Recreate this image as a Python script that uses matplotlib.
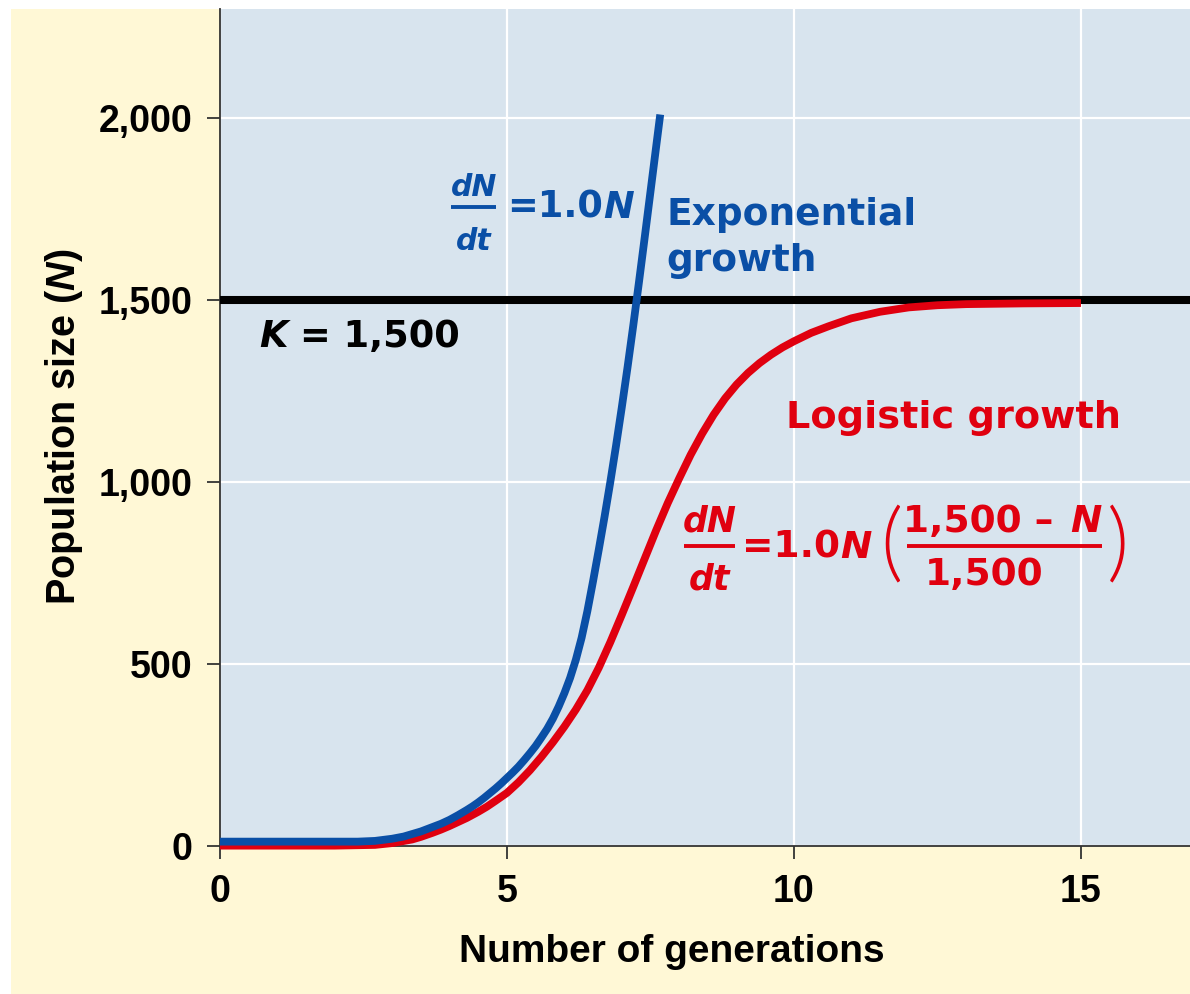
import matplotlib
matplotlib.use("Agg")
import matplotlib.pyplot as plt
from matplotlib.patches import Rectangle

# ---- data ----
exp_t = [0, 1, 2, 2.4, 2.7, 3.0, 3.2, 3.5, 3.7, 3.85, 4.0, 4.15, 4.3, 4.4, 4.5,
         4.6, 4.7, 4.8, 4.9, 5.0, 5.1, 5.2, 5.3, 5.4, 5.5, 5.6, 5.7, 5.8, 5.9,
         6.0, 6.1, 6.2, 6.3, 6.4, 6.5, 6.6, 6.7, 6.8, 6.9, 7.0, 7.1, 7.2, 7.3,
         7.4, 7.5, 7.6, 7.67]
exp_N = [12, 12, 12, 12, 14, 20, 26, 40, 52, 61, 72, 85, 99, 109, 120,
         132, 145, 158, 172, 187, 202, 218, 236, 255, 275, 298, 322, 350, 383,
         420, 462, 512, 572, 645, 728, 815, 905, 1000, 1100, 1205, 1315, 1430, 1550,
         1673, 1798, 1923, 2010]

log_t = [0, 1, 2, 2.7, 3.0, 3.35, 3.5, 3.7, 3.85, 4.0, 4.15, 4.3, 4.5, 4.65, 4.8,
         5.0, 5.2, 5.4, 5.6, 5.8, 6.0, 6.2, 6.4, 6.6, 6.8, 7.0, 7.2, 7.4, 7.6,
         7.8, 8.0, 8.2, 8.4, 8.6, 8.8, 9.0, 9.2, 9.4, 9.6, 9.8, 10.0, 10.3, 10.6,
         11.0, 11.5, 12.0, 12.5, 13, 14, 15]
log_N = [1, 1, 1, 3, 8, 18, 25, 36, 45, 55, 66, 77, 94, 108, 124,
         146, 175, 208, 245, 285, 328, 375, 428, 490, 560, 635, 712, 790, 868,
         942, 1010, 1075, 1133, 1185, 1230, 1268, 1300, 1327, 1350, 1370, 1387, 1410, 1428,
         1450, 1468, 1480, 1486, 1489, 1491, 1492]

K = 1500
x_ticks = [0, 5, 10, 15]
y_ticks = [0, 500, 1000, 1500, 2000]
y_ticklabels = ["0", "500", "1,000", "1,500", "2,000"]

# ---- style ----
W, H = 1190, 994
BLUE = "#0a4fa6"
RED = "#e0000f"
AX_BG = "#d8e4ee"
YELLOW = "#fff8d6"
FONT = "Liberation Sans"
AFONT = ["DejaVu Sans"]

plt.rcParams["font.family"] = [FONT, "DejaVu Sans"]
plt.rcParams["font.weight"] = "bold"
plt.rcParams["mathtext.fontset"] = "custom"
plt.rcParams["mathtext.rm"] = "Liberation Sans:bold"
plt.rcParams["mathtext.bf"] = "Liberation Sans:bold"
plt.rcParams["mathtext.it"] = "Liberation Sans:italic:bold"

fig = plt.figure(figsize=(W / 100, H / 100), dpi=100)
fig.patch.set_facecolor("white")
fig.patches.append(Rectangle((11 / W, 0), 1 - 11 / W, 1 - 9 / H,
                             transform=fig.transFigure, facecolor=YELLOW,
                             edgecolor="none", zorder=-10))

ax_l, ax_r, ax_t, ax_b = 220, 1190, 9, 846
ax = fig.add_axes([ax_l / W, 1 - ax_b / H, (ax_r - ax_l) / W, (ax_b - ax_t) / H])
ax.set_facecolor(AX_BG)
ax.set_xlim(0, 16.9)
ax.set_ylim(0, 2300)

for s in ["top", "right"]:
    ax.spines[s].set_visible(False)
for s in ["left", "bottom"]:
    ax.spines[s].set_color("#333333")
    ax.spines[s].set_linewidth(1.3)
    ax.spines[s].set_zorder(1)

ax.set_xticks(x_ticks)
ax.set_yticks(y_ticks)
ax.set_yticklabels(y_ticklabels)
ax.tick_params(direction="out", length=9.5, width=1.3, color="#333333",
               labelsize=27, pad=10.5)
for lab in ax.get_xticklabels() + ax.get_yticklabels():
    lab.set_fontweight("bold")

ax.grid(True, color="white", linewidth=1.6, zorder=0)
ax.set_axisbelow(True)

ax.axhline(K, color="black", linewidth=5.8, zorder=2)
ax.plot(log_t, log_N, color=RED, linewidth=5.6, solid_capstyle="butt",
        zorder=3, clip_on=False)
ax.plot(exp_t, exp_N, color=BLUE, linewidth=5.6, solid_capstyle="butt",
        zorder=4, clip_on=False)


def ft(x, y, s, **kw):
    """place text at pixel position (x from left, y from top)"""
    kw.setdefault("fontweight", "bold")
    return fig.text(x / W, 1 - y / H, s, **kw)


def seg(x, y, parts, size, color, family=AFONT):
    """draw a run of text pieces on one baseline; parts = [(text, italic, gap_px)]"""
    prev = None
    for s, it, gap in parts:
        style = "italic" if it else "normal"
        if prev is None:
            prev = ft(x, y, s, fontsize=size, color=color, family=family,
                      style=style, ha="left", va="baseline")
        else:
            prev = ax.annotate(s, xy=(1, 0), xycoords=prev,
                               xytext=(gap * 0.72, 0), textcoords="offset points",
                               fontsize=size, color=color, family=family,
                               fontweight="bold", style=style,
                               ha="left", va="bottom", annotation_clip=False)
    return prev


def hbar(x0, x1, y, color, lw=2.8):
    fig.lines.append(plt.Line2D([x0 / W, x1 / W], [1 - y / H, 1 - y / H],
                                transform=fig.transFigure, color=color,
                                linewidth=lw, solid_capstyle="butt"))


# axis labels
ft(672, 962, "Number of generations", fontsize=28, ha="center", va="baseline")
ft(64, 427, r"Population size ($N$)", fontsize=28.5, rotation=90,
   ha="center", va="center")

# K label
seg(259, 347, [("K", True, 0), ("= 1,500", False, 12)], 26.5, "black")

# exponential equation
ft(474, 196, "dN", fontsize=21.5, ha="center", va="baseline", color=BLUE,
   family=AFONT, style="italic")
hbar(451, 496, 207, BLUE)
ft(474, 250, "dt", fontsize=21.5, ha="center", va="baseline", color=BLUE,
   family=AFONT, style="italic")
seg(507, 218, [("=1.0", False, 0), ("N", True, 0)], 26.5, BLUE)
ft(666, 225, "Exponential", fontsize=27, ha="left", va="baseline", color=BLUE,
   family=AFONT)
ft(666, 271, "growth", fontsize=27, ha="left", va="baseline", color=BLUE,
   family=AFONT)

# logistic labels
ft(786, 428, "Logistic growth", fontsize=27.5, ha="left", va="baseline",
   color=RED, family=AFONT)
ft(710, 532, "dN", fontsize=25, ha="center", va="baseline", color=RED,
   family=AFONT, style="italic")
hbar(684, 735, 546, RED)
ft(710, 589, "dt", fontsize=25, ha="center", va="baseline", color=RED,
   family=AFONT, style="italic")
seg(742, 558, [("=1.0", False, 0), ("N", True, 0)], 27, RED)
ft(891, 546, "(", fontsize=62, ha="center", va="center", color=RED,
   family=["Lato", "DejaVu Sans"], fontweight=300)
seg(903, 532, [("1,500 – ", False, 0), ("N", True, 4)], 27, RED)
hbar(907, 1102, 546, RED)
ft(984, 585, "1,500", fontsize=27, ha="center", va="baseline", color=RED,
   family=AFONT)
ft(1118, 546, ")", fontsize=62, ha="center", va="center", color=RED,
   family=["Lato", "DejaVu Sans"], fontweight=300)

fig.savefig("out.png", dpi=100, facecolor=fig.get_facecolor())
